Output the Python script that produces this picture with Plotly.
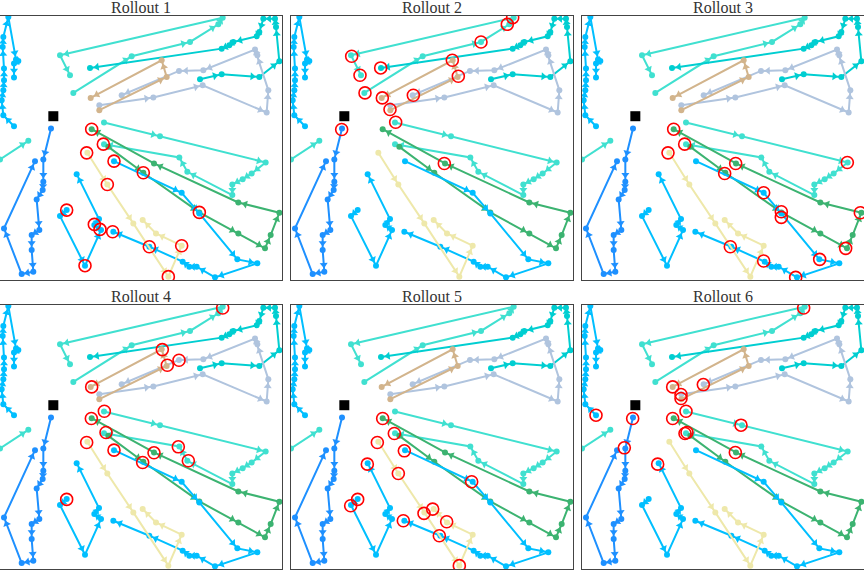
import numpy as np
import plotly.graph_objects as go

# node coordinates of each route (map units, y grows downward)
sky_left_x = [42, 10, 5, 10, 12, 12, 8, 10, 25, 48, 55, 42, 42]
sky_left_y = [378, 345, 300, 270, 240, 205, 140, 110, 50, 178, 182, 190, 232]

turq_top_x = [220, 395, 570, 655, 668, 180, 210]
turq_top_y = [278, 168, 125, 72, 52, 165, 225]

dturq_x = [600, 665, 778, 838, 828, 825, 790, 778, 770, 700, 688, 665, 270]
dturq_y = [237, 222, 230, 183, 80, 55, 55, 95, 108, 125, 135, 145, 203]

steel_x = [298, 460, 608, 800, 805, 772, 765, 610, 537, 365]
steel_y = [315, 292, 255, 337, 270, 165, 148, 210, 212, 285]

tan_x = [298, 500, 485, 272]
tan_y = [330, 230, 180, 293]

turq_mid_x = [312, 480, 797, 755, 728, 697, 697, 562, 538, 312]
turq_mid_y = [367, 408, 487, 520, 537, 553, 585, 515, 472, 432]

green_x = [325, 430, 598, 715, 795, 812, 838, 715, 462, 275]
green_y = [440, 518, 637, 700, 745, 705, 638, 607, 490, 387]

sky_mid_x = [342, 545, 598, 712, 772, 645, 590, 568, 548, 448, 340]
sky_mid_y = [483, 578, 640, 778, 790, 832, 800, 800, 785, 740, 695]

gold_x = [262, 322, 400, 505, 545, 468, 428]
gold_y = [458, 553, 670, 830, 737, 700, 660]

sky_v_x = [200, 180, 255, 303, 283, 297, 230]
sky_v_y = [630, 648, 797, 690, 675, 657, 522]

dodger_x = [153, 130, 130, 128, 110, 118, 95, 95, 100, 65, 12, 105]
dodger_y = [385, 478, 545, 570, 598, 690, 705, 750, 815, 822, 685, 483]

turq_left_x = [0, 85]
turq_left_y = [478, 422]

depot_x = [160]
depot_y = [348]

routes = [
    ("#00BFFF", sky_left_x, sky_left_y),
    ("#40E0D0", turq_top_x, turq_top_y),
    ("#00CED1", dturq_x, dturq_y),
    ("#B0C4DE", steel_x, steel_y),
    ("#D2B48C", tan_x, tan_y),
    ("#40E0D0", turq_mid_x, turq_mid_y),
    ("#3CB371", green_x, green_y),
    ("#00BFFF", sky_mid_x, sky_mid_y),
    ("#EEE8AA", gold_x, gold_y),
    ("#00BFFF", sky_v_x, sky_v_y),
    ("#1E90FF", dodger_x, dodger_y),
    ("#40E0D0", turq_left_x, turq_left_y),
]

# nodes highlighted in each rollout
rollout_1 = [(275, 387), (310, 432), (260, 458), (342, 483), (430, 518), (322, 553), (200, 630), (283, 673),
             (300, 688), (338, 695), (448, 740), (545, 737), (255, 797), (505, 830), (598, 637)]
rollout_2 = [(665, 52), (649, 72), (570, 125), (182, 168), (207, 225), (269, 203), (222, 278), (484, 180),
             (502, 228), (367, 285), (274, 293), (297, 328), (314, 366), (152, 388), (460, 490)]
rollout_3 = [(275, 387), (308, 432), (258, 458), (461, 490), (428, 520), (545, 578), (598, 635), (598, 652),
             (796, 487), (835, 638), (791, 745), (445, 740), (545, 783), (713, 778), (641, 832)]
rollout_4 = [(668, 56), (487, 181), (502, 228), (537, 213), (275, 293), (313, 366), (274, 388), (318, 430),
             (260, 460), (342, 483), (462, 491), (535, 473), (565, 515), (428, 520), (200, 631)]
rollout_5 = [(275, 388), (310, 433), (259, 460), (340, 485), (229, 525), (322, 553), (542, 578), (200, 631),
             (179, 650), (399, 673), (425, 660), (467, 698), (337, 695), (445, 740), (505, 830)]
rollout_6 = [(665, 56), (272, 293), (364, 286), (297, 316), (297, 328), (312, 366), (272, 388), (477, 408),
             (309, 433), (315, 430), (460, 490), (42, 378), (152, 388), (127, 476), (227, 525)]
rollouts = [rollout_1, rollout_2, rollout_3, rollout_4, rollout_5, rollout_6]
titles = ["Rollout 1", "Rollout 2", "Rollout 3", "Rollout 4", "Rollout 5", "Rollout 6"]

W, H = 864, 570
col_px = [(0, 282), (291, 573), (582, 864)]
row_px = [(16, 280), (305, 569)]

fig = go.Figure()
layout = dict(width=W, height=H, margin=dict(l=0, r=0, t=0, b=0),
              paper_bgcolor="white", plot_bgcolor="white", showlegend=False,
              font=dict(family="Liberation Serif", color="#222"))
annotations = []

for i, circ in enumerate(rollouts):
    r, c = divmod(i, 3)
    xa = "x" if i == 0 else "x%d" % (i + 1)
    ya = "y" if i == 0 else "y%d" % (i + 1)
    axkw = dict(showgrid=False, zeroline=False, showticklabels=False, ticks="",
                showline=True, mirror=True, linecolor="#444", linewidth=1)
    x0, x1 = col_px[c]
    y0, y1 = row_px[r]
    layout["xaxis" if i == 0 else "xaxis%d" % (i + 1)] = dict(
        domain=[x0 / W, x1 / W], range=[0, 846], anchor=ya, **axkw)
    layout["yaxis" if i == 0 else "yaxis%d" % (i + 1)] = dict(
        domain=[1 - y1 / H, 1 - y0 / H], range=[840, 47], anchor=xa, **axkw)

    for color, rx, ry in routes:
        rx = np.array(rx, float)
        ry = np.array(ry, float)
        fig.add_trace(go.Scatter(x=rx, y=ry, mode="lines+markers", xaxis=xa, yaxis=ya,
                                 line=dict(color=color, width=2),
                                 marker=dict(color=color, size=6), hoverinfo="skip"))
        # arrowhead just short of the end node of each leg
        dx, dy = np.diff(rx), np.diff(ry)
        seg = np.hypot(dx, dy)
        back = np.minimum(21, seg * 0.5)
        ax_ = rx[1:] - dx / seg * back
        ay_ = ry[1:] - dy / seg * back
        ang = np.degrees(np.arctan2(dx, -dy))
        fig.add_trace(go.Scatter(x=ax_, y=ay_, mode="markers", xaxis=xa, yaxis=ya,
                                 marker=dict(symbol="triangle-up", size=7, color=color, angle=ang),
                                 hoverinfo="skip"))

    fig.add_trace(go.Scatter(x=depot_x, y=depot_y, mode="markers", xaxis=xa, yaxis=ya,
                             marker=dict(symbol="square", size=10, color="black")))
    fig.add_trace(go.Scatter(x=[p[0] for p in circ], y=[p[1] for p in circ], mode="markers",
                             xaxis=xa, yaxis=ya,
                             marker=dict(symbol="circle-open", size=12, color="red",
                                         line=dict(width=1.6))))

    annotations.append(dict(text=titles[i], xref="paper", yref="paper",
                            x=(x0 + x1) / 2 / W, y=1 - y0 / H, xanchor="center", yanchor="bottom",
                            showarrow=False, font=dict(size=16, family="Liberation Serif", color="#333"),
                            yshift=-2))

layout["annotations"] = annotations
fig.update_layout(**layout)
fig.write_html("out.html", config={"displayModeBar": False},
               post_script="document.body.style.margin='0';")
